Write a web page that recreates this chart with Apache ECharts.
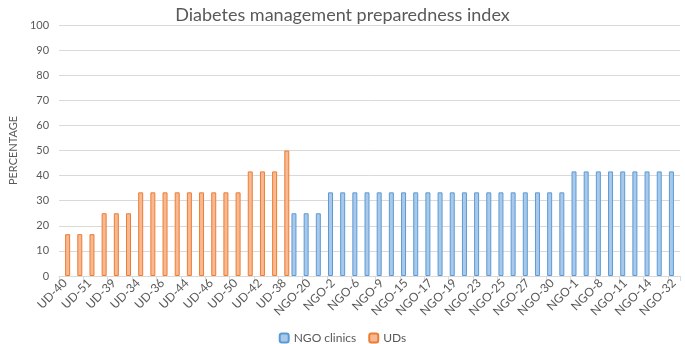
<!DOCTYPE html>
<html>
<head>
<meta charset="utf-8">
<script src="https://cdn.jsdelivr.net/npm/echarts@6/dist/echarts.min.js"></script>
<style>
  html, body { margin: 0; padding: 0; background: #fff; }
  #chart { width: 685px; height: 344px; }
</style>
</head>
<body>
<div id="chart"></div>
<script>
// categories, UDs first then NGO clinics (only every other label is shown)
const udNames = ["UD-40", "UD-43", "UD-51", "UD-35", "UD-39", "UD-37", "UD-34", "UD-45", "UD-36", "UD-47",
  "UD-44", "UD-48", "UD-46", "UD-49", "UD-50", "UD-52", "UD-42", "UD-53", "UD-38"];
const ngoNames = ["NGO-21", "NGO-20", "NGO-22", "NGO-2", "NGO-3", "NGO-6", "NGO-4", "NGO-9", "NGO-5", "NGO-15",
  "NGO-7", "NGO-17", "NGO-10", "NGO-19", "NGO-12", "NGO-23", "NGO-13", "NGO-25", "NGO-16", "NGO-27",
  "NGO-18", "NGO-30", "NGO-24", "NGO-1", "NGO-26", "NGO-8", "NGO-28", "NGO-11", "NGO-29", "NGO-14",
  "NGO-31", "NGO-32"];

const udValues = [16.67, 16.67, 16.67, 25, 25, 25, 33.33, 33.33, 33.33, 33.33,
  33.33, 33.33, 33.33, 33.33, 33.33, 41.67, 41.67, 41.67, 50];
const ngoValues = [25, 25, 25, 33.33, 33.33, 33.33, 33.33, 33.33, 33.33, 33.33,
  33.33, 33.33, 33.33, 33.33, 33.33, 33.33, 33.33, 33.33, 33.33, 33.33,
  33.33, 33.33, 33.33, 41.67, 41.67, 41.67, 41.67, 41.67, 41.67, 41.67,
  41.67, 41.67];

const yTicks = [0, 10, 20, 30, 40, 50, 60, 70, 80, 90, 100];

const categories = udNames.concat(ngoNames);
const ngoData = udNames.map(() => "-").concat(ngoValues);
const udData = udValues.concat(ngoNames.map(() => "-"));

const textColor = "#595959";
const font = "Lato, 'Open Sans', sans-serif";

let myChart = echarts.init(document.getElementById("chart"));
let option = {
  animation: false,
  textStyle: { fontFamily: font },
  title: {
    text: "Diabetes management preparedness index",
    left: "center",
    top: 1,
    textStyle: { color: textColor, fontSize: 18, fontWeight: "normal", fontFamily: font }
  },
  legend: {
    bottom: -5,
    left: "center",
    itemWidth: 9,
    itemHeight: 9,
    itemGap: 12,
    textStyle: { color: textColor, fontSize: 12, fontFamily: font },
    data: ["NGO clinics", "UDs"]
  },
  grid: {
    left: 47,
    right: 5,
    top: 25,
    bottom: 68
  },
  xAxis: {
    type: "category",
    data: categories,
    axisLine: { lineStyle: { color: "#D9D9D9" } },
    axisTick: { show: true, interval: 1, length: 5, lineStyle: { color: "#D9D9D9" } },
    axisLabel: {
      interval: 1,
      rotate: 45,
      color: textColor,
      fontSize: 12,
      margin: 5,
      fontFamily: font
    }
  },
  yAxis: {
    type: "value",
    min: yTicks[0],
    max: yTicks[yTicks.length - 1],
    interval: 10,
    name: "PERCENTAGE",
    nameLocation: "middle",
    nameRotate: 90,
    nameGap: 39,
    nameTextStyle: { color: textColor, fontSize: 11, fontFamily: font },
    axisLabel: { color: textColor, fontSize: 11, margin: 10, fontFamily: font },
    axisLine: { show: false },
    axisTick: { show: false },
    splitLine: { lineStyle: { color: "#D9D9D9" } }
  },
  series: [
    {
      name: "NGO clinics",
      type: "bar",
      barWidth: 5,
      barGap: "0%",
      itemStyle: { color: "#A9C8EA", borderColor: "#5B9BD5", borderWidth: 1 },
      data: ngoData
    },
    {
      name: "UDs",
      type: "bar",
      barWidth: 5,
      itemStyle: { color: "#F6B994", borderColor: "#ED7D31", borderWidth: 1 },
      data: udData
    }
  ]
};
myChart.setOption(option);
</script>
</body>
</html>
